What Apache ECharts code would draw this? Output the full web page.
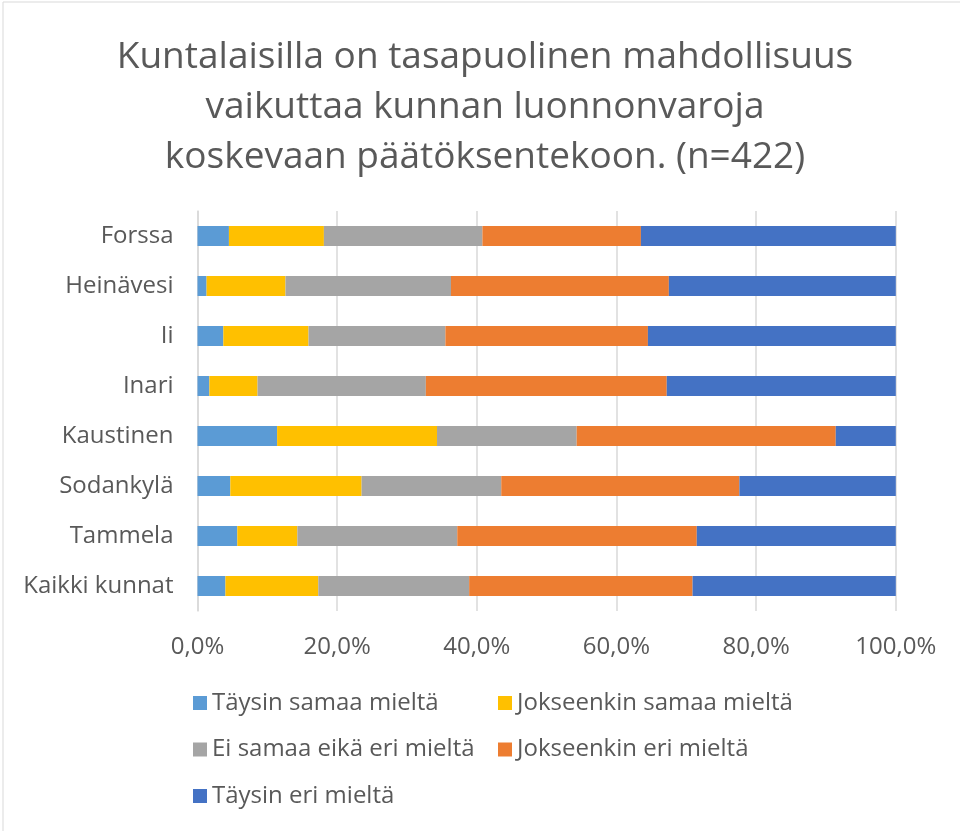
<!DOCTYPE html>
<html>
<head>
<meta charset="utf-8">
<title>Kuntalaisilla on tasapuolinen mahdollisuus</title>
<script src="https://cdn.jsdelivr.net/npm/echarts@6/dist/echarts.min.js"></script>
<style>
  html, body { margin: 0; padding: 0; background: #ffffff; }
  #chart { width: 960px; height: 831px; }
</style>
</head>
<body>
<div id="chart"></div>
<script>
// Municipalities, top to bottom
const categories = ['Forssa', 'Heinävesi', 'Ii', 'Inari', 'Kaustinen', 'Sodankylä', 'Tammela', 'Kaikki kunnat'];

// Share of respondents (%) per answer option
const taysinSamaa     = [4.5, 1.3, 3.7, 1.7, 11.4, 4.7, 5.7, 4.0];
const jokseenkinSamaa = [13.6, 11.3, 12.2, 6.9, 22.9, 18.8, 8.6, 13.3];
const eiSamaaEikaEri  = [22.7, 23.7, 19.6, 24.1, 20.0, 20.0, 22.9, 21.6];
const jokseenkinEri   = [22.7, 31.2, 29.0, 34.5, 37.1, 34.1, 34.3, 32.0];
const taysinEri       = [36.5, 32.5, 35.5, 32.8, 8.6, 22.4, 28.5, 29.1];

const seriesNames = [
  'Täysin samaa mieltä',
  'Jokseenkin samaa mieltä',
  'Ei samaa eikä eri mieltä',
  'Jokseenkin eri mieltä',
  'Täysin eri mieltä'
];
const seriesValues = [taysinSamaa, jokseenkinSamaa, eiSamaaEikaEri, jokseenkinEri, taysinEri];
const seriesColors = ['#5B9BD5', '#FFC000', '#A5A5A5', '#ED7D31', '#4472C4'];

const titleText = 'Kuntalaisilla on tasapuolinen mahdollisuus\nvaikuttaa kunnan luonnonvaroja\nkoskevaan päätöksentekoon. (n=422)';

const textColor = '#595959';
const lineColor = '#D9D9D9';
const font = 'Open Sans';

const chart = echarts.init(document.getElementById('chart'), null, { renderer: 'canvas' });

const legendText = { color: textColor, fontFamily: font, fontSize: 24, lineHeight: 24 };

chart.setOption({
  backgroundColor: '#ffffff',
  animation: false,
  title: {
    text: titleText,
    left: 480,
    textAlign: 'center',
    top: 27,
    textStyle: {
      color: textColor,
      fontFamily: font,
      fontSize: 37,
      fontWeight: 'normal',
      lineHeight: 50
    }
  },
  graphic: [{
    type: 'rect',
    shape: { x: 3, y: 2, width: 1000, height: 1000 },
    style: { fill: 'none', stroke: lineColor, lineWidth: 1 },
    silent: true,
    z: -1
  }],
  legend: [
    {
      data: [seriesNames[0], seriesNames[2], seriesNames[4]],
      orient: 'vertical',
      left: 188,
      top: 686,
      itemWidth: 14,
      itemHeight: 14,
      itemGap: 22.5,
      icon: 'rect',
      textStyle: legendText
    },
    {
      data: [seriesNames[1], seriesNames[3]],
      orient: 'vertical',
      left: 493,
      top: 686,
      itemWidth: 14,
      itemHeight: 14,
      itemGap: 22.5,
      icon: 'rect',
      textStyle: legendText
    }
  ],
  grid: {
    left: 197.5,
    right: 64.2,
    top: 211,
    bottom: 220,
    containLabel: false
  },
  xAxis: {
    type: 'value',
    min: 0,
    max: 100,
    interval: 20,
    axisLine: { show: false },
    axisTick: { show: false },
    splitLine: { show: true, lineStyle: { color: lineColor, width: 1.5 } },
    axisLabel: {
      color: textColor,
      fontFamily: font,
      fontSize: 24,
      margin: 24,
      formatter: v => v.toFixed(1).replace('.', ',') + '%'
    }
  },
  yAxis: {
    type: 'category',
    data: categories,
    inverse: true,
    axisLine: { show: true, lineStyle: { color: lineColor, width: 1.5 } },
    axisTick: { show: false },
    splitLine: { show: false },
    axisLabel: {
      color: textColor,
      fontFamily: font,
      fontSize: 24,
      margin: 24
    }
  },
  series: seriesNames.map((name, i) => ({
    name: name,
    type: 'bar',
    stack: 'total',
    data: seriesValues[i],
    barWidth: 20,
    itemStyle: { color: seriesColors[i] },
    emphasis: { disabled: true }
  }))
});
</script>
</body>
</html>
